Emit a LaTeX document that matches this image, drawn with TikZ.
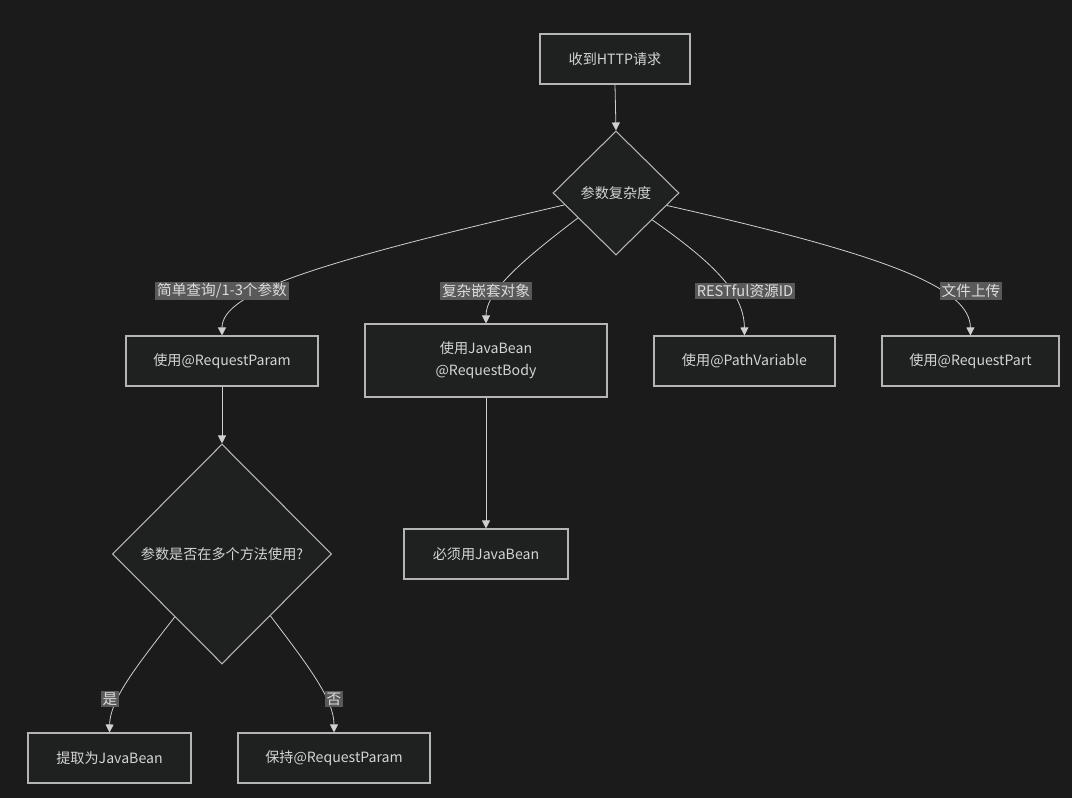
\documentclass[tikz,border=0pt]{standalone}
\usepackage{fontspec}
\setmainfont{Noto Sans CJK SC}
\usetikzlibrary{shapes.geometric,arrows.meta,calc}
\definecolor{bgc}{HTML}{1B1B1B}
\definecolor{boxfill}{HTML}{1F2020}
\definecolor{boxline}{HTML}{B5B5B5}
\definecolor{txt}{HTML}{D4D4D4}
\definecolor{lblbg}{HTML}{595959}
\definecolor{lbltxt}{HTML}{DCDCDC}
\definecolor{edgec}{HTML}{CFCFCF}
\tikzset{
  base/.style={font=\fontsize{10.6pt}{16.5pt}\selectfont, text=txt},
  box/.style={base, draw=boxline, line width=0.8pt, fill=boxfill, inner sep=0pt, align=center},
  dia/.style={base, diamond, draw=boxline, line width=0.8pt, fill=boxfill, inner sep=0pt, aspect=1},
  lbl/.style={font=\fontsize{11pt}{13pt}\selectfont, text=lbltxt, fill=lblbg, inner sep=1.3pt},
  conn/.style={draw=edgec, line width=0.6pt, -{Triangle[length=6pt,width=6pt]}},
}
\begin{document}
\begin{tikzpicture}[x=0.75pt,y=-0.75pt]
\fill[bgc] (0,0) rectangle (1072,798);
\useasboundingbox (0,0) rectangle (1072,798);

\node[box, minimum width=112.5pt, minimum height=37.5pt] (start) at (615,59) {收到HTTP请求};
\node[dia, minimum width=94.5pt, minimum height=93pt] (d1) at (616,193) {参数复杂度};
\node[box, minimum width=144pt, minimum height=37.5pt] (rp) at (222,361) {使用@RequestParam};
\node[box, minimum width=181.5pt, minimum height=54.75pt] (rb) at (486,360.5) {使用JavaBean\\@RequestBody};
\node[box, minimum width=135.75pt, minimum height=37.5pt] (pv) at (744.5,361) {使用@PathVariable};
\node[box, minimum width=132.75pt, minimum height=37.5pt] (rpart) at (970.5,361) {使用@RequestPart};
\node[dia, minimum width=164.25pt, minimum height=165pt] (d2) at (222,554) {参数是否在多个方法使用?};
\node[box, minimum width=123pt, minimum height=37.5pt] (must) at (486,554) {必须用JavaBean};
\node[box, minimum width=122.25pt, minimum height=37.5pt] (ext) at (109.5,758) {提取为JavaBean};
\node[box, minimum width=144pt, minimum height=37.5pt] (keep) at (334,758) {保持@RequestParam};

\draw[conn] (start.south) -- (d1.north);
\draw[conn] ($(d1.west)!0.19!(d1.south)$) .. controls (320,262) and (222,292) .. (rp.north);
\draw[conn] ($(d1.west)!0.4!(d1.south)$) .. controls (520,262) and (486,292) .. (rb.north);
\draw[conn] ($(d1.east)!0.43!(d1.south)$) .. controls (712,262) and (744,292) .. (pv.north);
\draw[conn] ($(d1.east)!0.2!(d1.south)$) .. controls (900,258) and (970,290) .. (rpart.north);
\draw[conn] (rp.south) -- (d2.north);
\draw[conn] (rb.south) -- (must.north);
\draw[conn] ($(d2.west)!0.57!(d2.south)$) .. controls (135,668) and (110,700) .. (ext.north);
\draw[conn] ($(d2.east)!0.56!(d2.south)$) .. controls (310,668) and (334,700) .. (keep.north);

\node[lbl] (l1) at (222,291) {简单查询/1-3个参数};
\node[lbl] (l2) at (486,291) {复杂嵌套对象};
\node[lbl] (l3) at (745,291) {RESTful资源ID};
\node[lbl] (l4) at (971,291) {文件上传};
\node[lbl] (l5) at (110,699) {是};
\node[lbl] (l6) at (334,699) {否};
\end{tikzpicture}
\end{document}
